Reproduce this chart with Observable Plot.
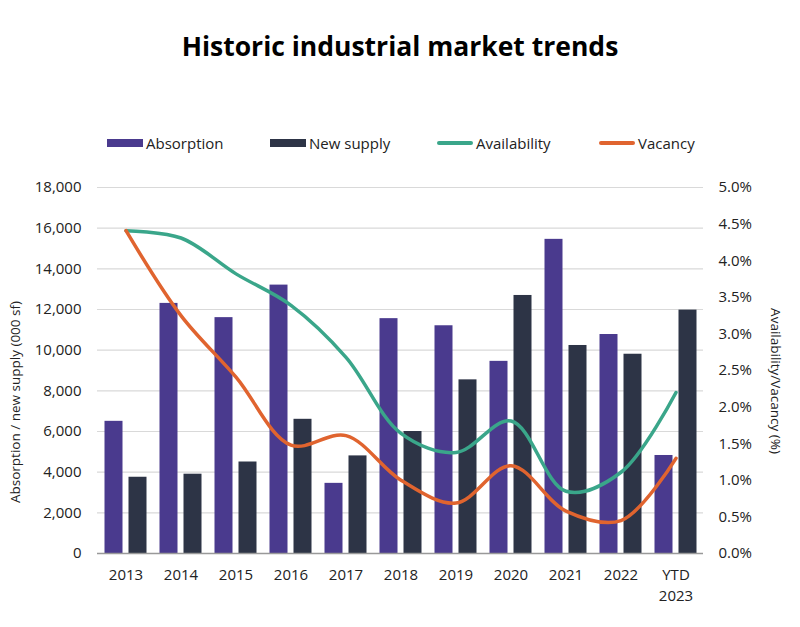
<!DOCTYPE html>
<html>
<head>
<meta charset="utf-8">
<script src="https://cdn.jsdelivr.net/npm/d3@7"></script>
<script src="https://cdn.jsdelivr.net/npm/@observablehq/plot@0.6"></script>
<style>
  html, body { margin: 0; padding: 0; background: #fff; }
  body { width: 800px; height: 627px; position: relative; font-family: "Open Sans", sans-serif; color: #222; overflow: hidden; }
  #title { position: absolute; top: 28px; left: 0; width: 800px; text-align: center; font-size: 26.5px; font-weight: 700; color: #000; line-height: 36px; }
  #legend { position: absolute; top: 133px; left: 0; width: 800px; font-size: 15px; color: #222; }
  .item { position: absolute; top: 0; display: flex; align-items: center; height: 20px; }
  .sw { display: inline-block; width: 36px; margin-right: 3px; }
  #chart { position: absolute; top: 170px; left: 0; }
  .ylab { position: absolute; font-size: 13.5px; color: #222; white-space: nowrap; }
</style>
</head>
<body>
<div id="title">Historic industrial market trends</div>
<div id="legend"></div>
<div id="chart"></div>
<div class="ylab" id="ylabL">Absorption / new supply (000 sf)</div>
<div class="ylab" id="ylabR">Availability/Vacancy (%)</div>
<script>
const years = ["2013","2014","2015","2016","2017","2018","2019","2020","2021","2022","YTD 2023"];
const absorption = [6500, 12300, 11600, 13200, 3450, 11550, 11200, 9450, 15450, 10770, 4820];
const newSupply = [3750, 3900, 4500, 6600, 4800, 6000, 8540, 12690, 10230, 9800, 11970];
const availability = [4.41, 4.31, 3.82, 3.39, 2.68, 1.64, 1.38, 1.81, 0.85, 1.11, 2.20];
const vacancy = [4.41, 3.25, 2.41, 1.48, 1.61, 1.00, 0.69, 1.20, 0.58, 0.45, 1.30];
const leftTicks = [0, 2000, 4000, 6000, 8000, 10000, 12000, 14000, 16000, 18000];
const rightTicks = [0, 0.5, 1.0, 1.5, 2.0, 2.5, 3.0, 3.5, 4.0, 4.5, 5.0];

const colors = {
  "Absorption": "#4a3a8e",
  "New supply": "#2d3446",
  "Availability": "#3aa68a",
  "Vacancy": "#e0642f"
};
const scaleK = 18000 / 5; // percent -> left axis units

const absData = years.map((y, i) => ({year: y, value: absorption[i]}));
const nsData = years.map((y, i) => ({year: y, value: newSupply[i]}));
const avData = years.map((y, i) => ({year: y, value: availability[i] * scaleK}));
const vaData = years.map((y, i) => ({year: y, value: vacancy[i] * scaleK}));

// Legend
const legend = document.getElementById("legend");
const legendItems = [
  {name: "Absorption", type: "bar", x: 107},
  {name: "New supply", type: "bar", x: 270},
  {name: "Availability", type: "line", x: 437},
  {name: "Vacancy", type: "line", x: 599}
];
for (const it of legendItems) {
  const d = document.createElement("div");
  d.className = "item";
  d.style.left = it.x + "px";
  const sw = document.createElement("span");
  sw.className = "sw";
  sw.style.height = it.type === "bar" ? "8px" : "4px";
  sw.style.background = colors[it.name];
  if (it.type === "line") sw.style.borderRadius = "2px";
  d.appendChild(sw);
  d.appendChild(document.createTextNode(it.name));
  legend.appendChild(d);
}

const chart = Plot.plot({
  width: 800,
  height: 440,
  marginTop: 17,
  marginBottom: 57,
  marginLeft: 97,
  marginRight: 97,
  style: {fontFamily: "Open Sans, sans-serif", fontSize: "15px", color: "#222", background: "transparent"},
  x: {type: "band", domain: years, padding: 0},
  y: {domain: [0, 18000]},
  marks: [
    Plot.gridY(leftTicks.filter(d => d > 0), {stroke: "#d9d9d9", strokeOpacity: 1, strokeWidth: 1.2}),
    Plot.barY(absData, {x: "year", y: "value", fill: colors["Absorption"], insetLeft: 6.5, insetRight: 30.5}),
    Plot.barY(nsData, {x: "year", y: "value", fill: colors["New supply"], insetLeft: 30.5, insetRight: 6.5}),
    Plot.ruleY([0], {stroke: "#999", strokeWidth: 1.5}),
    Plot.line(avData, {x: "year", y: "value", stroke: colors["Availability"], strokeWidth: 3.5, curve: "catmull-rom"}),
    Plot.line(vaData, {x: "year", y: "value", stroke: colors["Vacancy"], strokeWidth: 3.5, curve: "catmull-rom"}),
    Plot.axisY(leftTicks, {anchor: "left", tickSize: 0, tickPadding: 16, tickFormat: d => d3.format(",")(d), label: null, fontSize: 15}),
    Plot.axisY(rightTicks.map(d => d * scaleK), {anchor: "right", tickSize: 0, tickPadding: 15, tickFormat: d => (d / scaleK).toFixed(1) + "%", label: null, fontSize: 15}),
    Plot.axisX({tickSize: 0, tickPadding: 12, label: null, fontSize: 15, tickFormat: d => d === "YTD 2023" ? "YTD\n2023" : d, lineHeight: 1.4})
  ]
});
document.getElementById("chart").appendChild(chart);

// Axis titles
const yl = document.getElementById("ylabL");
yl.style.left = "15px"; yl.style.top = "402px";
yl.style.transform = "translate(-50%, -50%) rotate(-90deg)";
const yr = document.getElementById("ylabR");
yr.style.left = "776px"; yr.style.top = "381px";
yr.style.transform = "translate(-50%, -50%) rotate(90deg)";
</script>
</body>
</html>
